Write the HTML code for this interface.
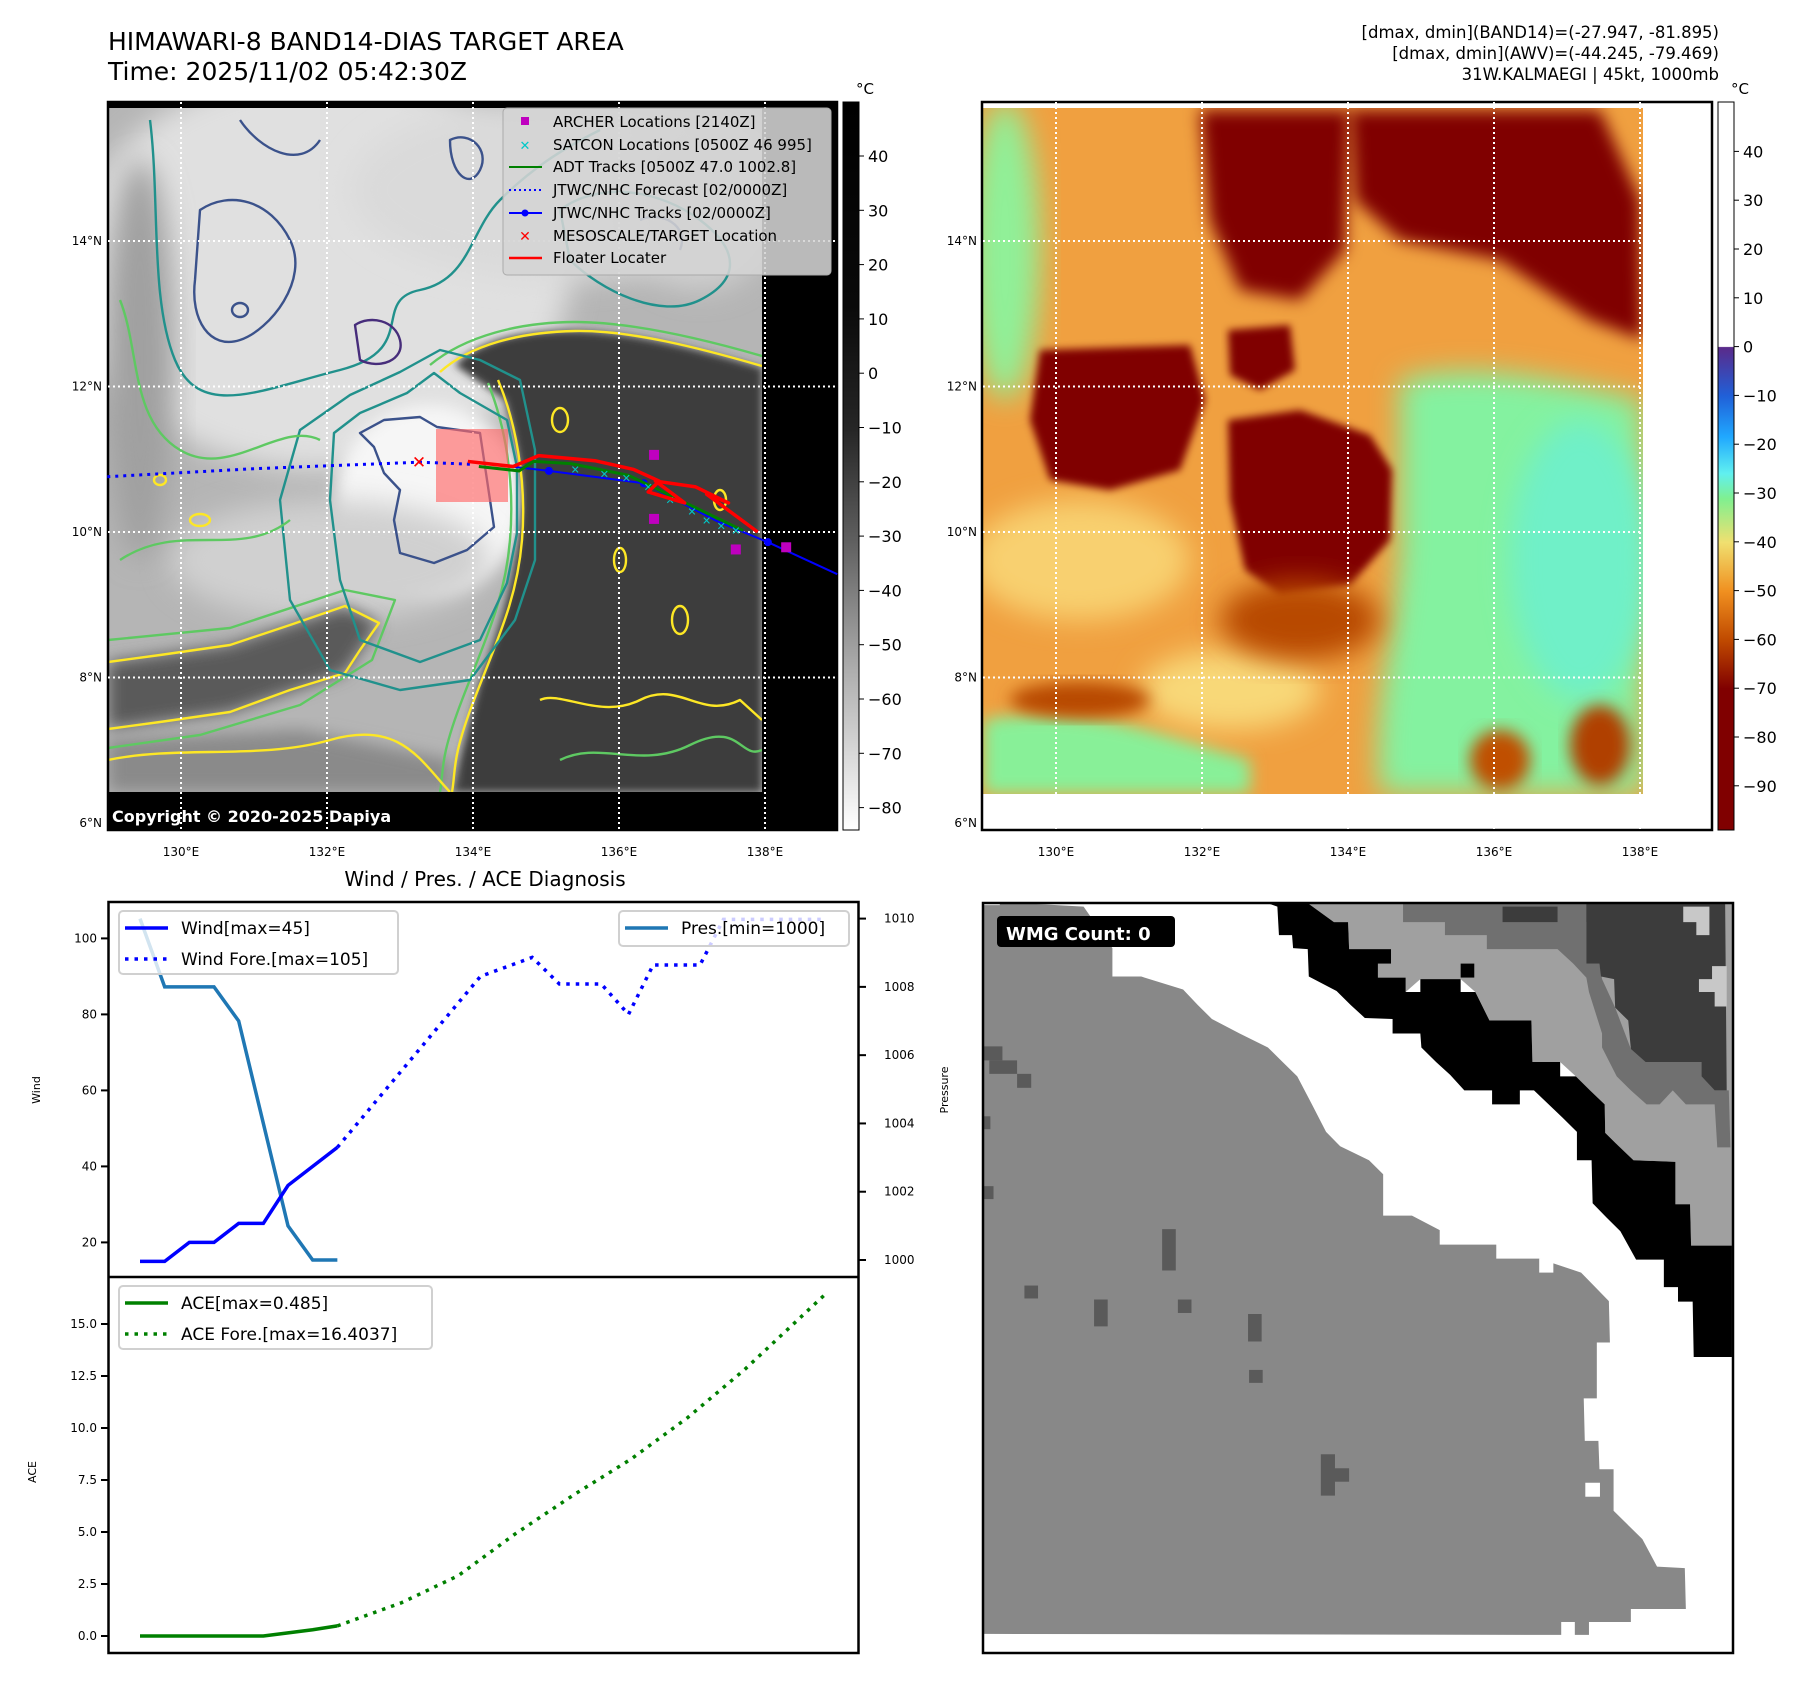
<!DOCTYPE html>
<html><head><meta charset="utf-8"><style>
html,body{margin:0;padding:0;background:#fff;}
svg{display:block;font-family:"DejaVu Sans","Liberation Sans",sans-serif;}
</style></head><body>
<svg id="fig" width="1801" height="1690" viewBox="0 0 1801 1690" xmlns="http://www.w3.org/2000/svg">
<defs>
  <clipPath id="clipL"><rect x="108" y="108" width="654" height="684"/></clipPath>
  <clipPath id="clipR"><rect x="983" y="108" width="660" height="686"/></clipPath>
  <clipPath id="clipW"><rect x="983" y="903" width="750" height="750"/></clipPath>
  <filter id="b8" x="-20%" y="-20%" width="140%" height="140%"><feGaussianBlur stdDeviation="8"/></filter>
  <filter id="b14" x="-30%" y="-30%" width="160%" height="160%"><feGaussianBlur stdDeviation="14"/></filter>
  <filter id="b4"><feGaussianBlur stdDeviation="4"/></filter>
  <linearGradient id="cbL" x1="0" y1="0" x2="0" y2="1">
    <stop offset="0" stop-color="#000"/><stop offset="0.28" stop-color="#0a0a0a"/>
    <stop offset="0.45" stop-color="#262626"/><stop offset="0.6" stop-color="#5e5e5e"/>
    <stop offset="0.78" stop-color="#adadad"/><stop offset="1" stop-color="#fff"/>
  </linearGradient>
  <linearGradient id="cbR" x1="0" y1="0" x2="0" y2="1">
    <stop offset="0" stop-color="#fff"/><stop offset="0.336" stop-color="#fff"/>
    <stop offset="0.337" stop-color="#5a2a8a"/><stop offset="0.404" stop-color="#2060d8"/>
    <stop offset="0.46" stop-color="#20a8ff"/><stop offset="0.51" stop-color="#60f0f0"/>
    <stop offset="0.545" stop-color="#80f090"/><stop offset="0.605" stop-color="#f0e070"/>
    <stop offset="0.672" stop-color="#f09020"/><stop offset="0.739" stop-color="#c04a00"/>
    <stop offset="0.806" stop-color="#800000"/><stop offset="1" stop-color="#800000"/>
  </linearGradient>
</defs>

<!-- Titles -->
<text x="108" y="50" font-size="25">HIMAWARI-8 BAND14-DIAS TARGET AREA</text>
<text x="108" y="80" font-size="25">Time: 2025/11/02 05:42:30Z</text>
<g font-size="16.5" text-anchor="end">
  <text x="1719" y="38">[dmax, dmin](BAND14)=(-27.947, -81.895)</text>
  <text x="1719" y="59">[dmax, dmin](AWV)=(-44.245, -79.469)</text>
  <text x="1719" y="80">31W.KALMAEGI | 45kt, 1000mb</text>
</g>

<!-- LEFT MAP -->
<g>
  <rect x="108" y="102" width="729" height="728" fill="#000"/>
  <g clip-path="url(#clipL)">
    <rect x="108" y="108" width="654" height="684" fill="#b5b5b5"/>
    <ellipse cx="320" cy="270" rx="250" ry="200" fill="#e0e0e0" filter="url(#b14)"/>
    <ellipse cx="560" cy="190" rx="210" ry="90" fill="#dadada" filter="url(#b14)"/>
    <ellipse cx="700" cy="200" rx="80" ry="90" fill="#cfcfcf" filter="url(#b14)"/>
    <ellipse cx="430" cy="500" rx="95" ry="95" fill="#f6f6f6" filter="url(#b8)"/>
    <ellipse cx="330" cy="560" rx="160" ry="60" fill="#d0d0d0" filter="url(#b14)"/>
    <ellipse cx="140" cy="360" rx="35" ry="200" fill="#a0a0a0" filter="url(#b14)"/>
    <path d="M455,365 C480,340 520,330 575,331 S700,350 762,368 L762,792 L452,792 C460,760 470,720 478,690 S505,620 515,560 S525,470 505,400 Z" fill="#3d3d3d" filter="url(#b4)"/>
    <path d="M108,662 L230,645 L345,606 L379,623 L345,673 L230,712 L108,729 Z" fill="#5a5a5a" filter="url(#b8)"/>
    <path d="M108,740 L300,730 L452,760 L452,792 L108,792 Z" fill="#8a8a8a" filter="url(#b8)"/>
    <g fill="none" stroke-width="2.4" stroke-linejoin="round">
      <path d="M440,372 C470,345 520,332 575,331 S700,348 762,366" stroke="#fde725"/>
      <path d="M498,380 C515,420 527,480 522,540 S497,640 474,700 S456,770 452,792" stroke="#fde725"/>
      <path d="M430,365 C465,336 520,322 575,322 S700,338 762,356" stroke="#5ec962"/>
      <path d="M488,383 C505,425 515,480 510,540 S485,640 462,700 S444,770 440,792" stroke="#5ec962"/>
      <path d="M108,662 L160,655 L230,645 L290,625 L345,606 L379,623 L360,650 L345,673 L290,690 L230,712 L160,722 L108,729" stroke="#fde725"/>
      <path d="M108,640 L230,628 L345,590 L395,600 L372,660 L300,705 L200,735 L108,748" stroke="#5ec962"/>
      <path d="M108,760 C180,745 260,760 330,740 S420,760 450,792" stroke="#fde725"/>
      <path d="M540,700 C560,690 600,720 640,700 S700,720 740,700 L762,720" stroke="#fde725"/>
      <path d="M560,760 C600,740 640,770 690,745 S740,760 762,750" stroke="#5ec962"/>
      <path d="M334,433 L360,413 L407,393 L434,373 L460,393 L507,420 L517,467 L517,533 L507,583 L480,640 L420,662 L360,640 L340,580 L330,500 Z" stroke="#21918c"/>
      <path d="M300,430 L350,395 L400,372 L440,350 L480,360 L520,380 L535,450 L535,560 L515,620 L470,680 L400,690 L330,670 L290,600 L280,500 Z" stroke="#21918c"/>
      <path d="M360,433 L384,420 L420,417 L437,427 L480,433 L490,500 L494,527 L467,550 L434,563 L400,553 L394,520 L400,490 L384,473 L374,447 Z" stroke="#3b528b"/>
      <path d="M150,120 C160,200 150,300 175,360 S260,390 340,370 S370,300 420,290 S470,230 500,200 S560,150 600,130" stroke="#21918c"/>
      <path d="M120,300 C140,350 130,420 180,450 S280,420 320,440" stroke="#5ec962"/>
      <path d="M120,560 C180,520 240,560 290,520" stroke="#5ec962"/>
      <path d="M200,210 C230,190 270,200 290,240 S270,330 240,340 S190,320 195,280 Z" stroke="#3b528b"/>
      <path d="M240,120 C260,150 300,170 320,140" stroke="#3b528b"/>
      <path d="M355,325 C370,315 395,320 400,340 S380,370 360,360 Z" stroke="#472d7b"/>
      <path d="M450,140 C470,130 490,150 480,170 S450,175 450,140 Z" stroke="#3b528b"/>
      <path d="M560,210 C600,180 660,190 700,220 S740,280 700,300 S600,290 570,260 Z" stroke="#21918c"/>
      <path d="M640,220 C660,210 690,225 680,250" stroke="#3b528b"/>
      <ellipse cx="240" cy="310" rx="8" ry="7" stroke="#3b528b"/>
      <ellipse cx="560" cy="420" rx="8" ry="12" stroke="#fde725"/>
      <ellipse cx="620" cy="560" rx="6" ry="12" stroke="#fde725"/>
      <ellipse cx="680" cy="620" rx="8" ry="14" stroke="#fde725"/>
      <ellipse cx="720" cy="500" rx="6" ry="10" stroke="#fde725"/>
      <ellipse cx="200" cy="520" rx="10" ry="6" stroke="#fde725"/>
      <ellipse cx="160" cy="480" rx="6" ry="5" stroke="#fde725"/>
    </g>
  </g>
  <rect x="108" y="102" width="729" height="728" fill="none" stroke="#000" stroke-width="2.5"/>
  <text x="112" y="822" font-size="16" font-weight="bold" fill="#fff">Copyright © 2020-2025 Dapiya</text>
</g>

<!-- RIGHT MAP -->
<g>
  <rect x="982" y="102" width="730" height="728" fill="#fff"/>
  <g clip-path="url(#clipR)">
    <rect x="983" y="108" width="660" height="686" fill="#f0a040"/>
    <path d="M1400,380 C1470,360 1560,380 1643,400 L1643,794 L1380,794 C1370,700 1400,620 1400,540 Z" fill="#84f2a0" filter="url(#b14)"/>
    <ellipse cx="1580" cy="560" rx="70" ry="140" fill="#70f0c8" filter="url(#b14)"/>
    <ellipse cx="1005" cy="250" rx="35" ry="150" fill="#90f098" filter="url(#b14)"/>
    <path d="M983,720 C1080,700 1180,740 1250,760 L1250,794 L983,794 Z" fill="#88f098" filter="url(#b8)"/>
    <ellipse cx="1080" cy="560" rx="110" ry="60" fill="#f8d070" filter="url(#b14)"/>
    <ellipse cx="1230" cy="690" rx="90" ry="40" fill="#f8d878" filter="url(#b14)"/>
    <path d="M1040,350 L1190,345 L1205,400 L1180,470 L1110,490 L1050,480 L1030,420 Z" fill="#800000" filter="url(#b4)"/>
    <path d="M1200,110 L1350,110 L1345,250 L1300,300 L1240,290 L1210,220 Z" fill="#800000" filter="url(#b8)"/>
    <path d="M1350,110 L1600,110 L1640,200 L1643,340 L1590,320 L1500,260 L1400,240 L1355,200 Z" fill="#800000" filter="url(#b8)"/>
    <path d="M1228,330 L1290,325 L1295,370 L1260,390 L1230,375 Z" fill="#800000" filter="url(#b4)"/>
    <path d="M1228,420 L1300,410 L1370,435 L1392,470 L1390,540 L1350,585 L1280,595 L1245,570 L1230,500 Z" fill="#800000" filter="url(#b4)"/>
    <ellipse cx="1300" cy="620" rx="80" ry="40" fill="#b84a00" filter="url(#b14)"/>
    <ellipse cx="1080" cy="700" rx="70" ry="18" fill="#b84a00" filter="url(#b8)"/>
    <ellipse cx="1600" cy="745" rx="30" ry="40" fill="#b04000" filter="url(#b8)"/>
    <ellipse cx="1500" cy="760" rx="30" ry="30" fill="#c05000" filter="url(#b8)"/>
  </g>
  <rect x="982" y="102" width="730" height="728" fill="none" stroke="#000" stroke-width="2.5"/>
</g>

<g id="gridL"></g>
<g id="tracks"></g>

<!-- legend in left map -->
<g font-size="15">
  <rect x="503" y="108" width="328" height="167" rx="4" fill="rgba(212,212,212,0.88)" stroke="#aaa"/>
  <rect x="521" y="117" width="8" height="8" fill="#bf00bf"/>
  <text x="553" y="127">ARCHER Locations [2140Z]</text>
  <text x="525" y="150" text-anchor="middle" fill="#00c8c8" font-weight="bold" font-size="13">✕</text>
  <text x="553" y="150">SATCON Locations [0500Z 46 995]</text>
  <line x1="509" y1="167" x2="542" y2="167" stroke="#008000" stroke-width="2"/>
  <text x="553" y="172">ADT Tracks [0500Z 47.0 1002.8]</text>
  <line x1="509" y1="190" x2="542" y2="190" stroke="#0000ff" stroke-width="2" stroke-dasharray="2 3"/>
  <text x="553" y="195">JTWC/NHC Forecast [02/0000Z]</text>
  <line x1="509" y1="213" x2="542" y2="213" stroke="#0000ff" stroke-width="2"/><circle cx="525" cy="213" r="3.5" fill="#0000ff"/>
  <text x="553" y="218">JTWC/NHC Tracks [02/0000Z]</text>
  <text x="525" y="241" text-anchor="middle" fill="#ff0000" font-weight="bold" font-size="14">✕</text>
  <text x="553" y="241">MESOSCALE/TARGET Location</text>
  <line x1="509" y1="258" x2="542" y2="258" stroke="#ff0000" stroke-width="2.5"/>
  <text x="553" y="263">Floater Locater</text>
</g>

<!-- colorbars -->
<g>
  <rect x="843" y="102" width="16" height="728" fill="url(#cbL)" stroke="#000" stroke-width="1"/>
  <text x="856" y="94" font-size="15">°C</text>
  <g id="cbLticks" font-size="16"></g>
</g>
<g>
  <rect x="1718" y="102" width="16" height="728" fill="url(#cbR)" stroke="#000" stroke-width="1"/>
  <text x="1731" y="94" font-size="15">°C</text>
  <g id="cbRticks" font-size="16"></g>
</g>

<!-- DIAGNOSIS -->
<text x="485" y="886" font-size="20" text-anchor="middle">Wind / Pres. / ACE Diagnosis</text>
<g id="diag"></g>

<!-- WMG -->
<g id="wmg"></g>

<script>
// ===== Diagnosis data =====
const obsIdx = [0,1,2,3,4,5,6,7,8];
const windObs = [15,15,20,20,25,25,35,40,45];
const windFcIdx = [8,13.8,15.9,17,18.7,19.8,20.8,22.7,23.65,27.75];
const windFc = [45,90,95,88,88,80,93,93,105,105];
const presObs = [1010,1008,1008,1008,1007,1004,1001,1000,1000];
const aceObs = [0,0,0,0,0,0,0.15,0.3,0.485];
const aceFcIdx = [8,10.6,12.9,15.2,17.6,19.9,22.2,24.5,27.75];
const aceFc = [0.485,1.6,2.9,4.9,6.8,8.5,10.5,12.8,16.4];
const windTicks = [20,40,60,80,100];
const presTicks = [1000,1002,1004,1006,1008,1010];
const aceTicks = [0,2.5,5,7.5,10,12.5,15];
// ===== Map overlays data (lon, lat) =====
const archerLon = [136.48,136.48,137.60,138.29];
const archerLat = [11.06,10.18,9.76,9.79];
const fcLon = [128.99,131.0,133.27,134.0];
const fcLat = [10.76,10.87,10.96,10.93];
const jtwcLon = [133.93,135.04,136.34,137.34,138.04,138.99];
const jtwcLat = [10.97,10.84,10.67,10.15,9.86,9.42];
const jtwcDots = [1,2,4];
const adtLon = [134.08,134.63,134.83,135.34,136.13,136.91,137.70];
const adtLat = [10.90,10.84,10.97,10.94,10.78,10.40,10.02];
const satconLon = [135.4,135.8,136.1,136.4,136.7,137.0,137.2,137.4,137.6];
const satconLat = [10.86,10.80,10.74,10.62,10.44,10.28,10.16,10.08,10.02];
const floatLon = [133.93,134.55,134.9,135.67,136.2,136.55,136.4,136.9,136.5,137.05,137.5,137.2,137.9];
const floatLat = [10.97,10.9,11.05,10.98,10.86,10.7,10.55,10.4,10.7,10.62,10.4,10.52,10.0];
const mesoLon = [133.26], mesoLat = [10.96];
const lonTicks = [130,132,134,136,138];
const latTicks = [6,8,10,12,14];
const cbLTicks = [40,30,20,10,0,-10,-20,-30,-40,-50,-60,-70,-80];
const cbRTicks = [40,30,20,10,0,-10,-20,-30,-40,-50,-60,-70,-80,-90];

const NS='http://www.w3.org/2000/svg';
function mk(tag, attrs, parent){const e=document.createElementNS(NS,tag);for(const k in attrs)e.setAttribute(k,attrs[k]);parent.appendChild(e);return e;}
const mX = lon => 181 + (lon-130)*73;
const mY = lat => 532 - (lat-10)*72.75;
const xI = i => 140 + i*24.67;
const yW = v => 1242.4 - (v-20)*3.80;
const yP = p => 1260 - (p-1000)*34.14;
const yA = a => 1636 - a*20.8;
const fmtNeg = v => (v<0?'\u2212'+Math.abs(v):String(v));

const grid=document.getElementById('gridL');
[0,875].forEach((off,mi)=>{
  lonTicks.forEach(lon=>{
    const l=mk('line',{x1:mX(lon)+off,y1:102,x2:mX(lon)+off,y2:830,stroke:'#fff','stroke-width':2,'stroke-dasharray':'2 3'},grid);
    
    
    const t=mk('text',{x:mX(lon)+off,y:856,'font-size':12,'text-anchor':'middle'},grid);
    t.textContent=lon+'°E';
    
    
  });
  latTicks.forEach(lat=>{
    if(lat>6){
      const l=mk('line',{x1:108+off,y1:mY(lat),x2:837+off,y2:mY(lat),stroke:'#fff','stroke-width':2,'stroke-dasharray':'2 3'},grid);
      
      
    }
    const t=mk('text',{x:102+off,y:Math.min(mY(lat),826)+4,'font-size':12,'text-anchor':'end'},grid);
    t.textContent=lat+'°N';
    
    
  });
});

const tr=document.getElementById('tracks');
const pts=(lo,la)=>lo.map((v,i)=>mX(v)+','+mY(la[i])).join(' ');
let e;
e=mk('rect',{x:436,y:429,width:72,height:73,fill:'rgba(255,105,105,0.65)'},tr);


e=mk('polyline',{points:pts(fcLon,fcLat),fill:'none',stroke:'#0000ff','stroke-width':3,'stroke-dasharray':'3 5'},tr);


e=mk('polyline',{points:pts(jtwcLon,jtwcLat),fill:'none',stroke:'#0000ff','stroke-width':2},tr);


jtwcDots.forEach(i=>{
  const c=mk('circle',{cx:mX(jtwcLon[i]),cy:mY(jtwcLat[i]),r:4,fill:'#0000ff'},tr);
  
  
});
e=mk('polyline',{points:pts(adtLon,adtLat),fill:'none',stroke:'#008000','stroke-width':3},tr);


satconLon.forEach((lo,i)=>{
  const t=mk('text',{x:mX(lo),y:mY(satconLat[i])+4,'font-size':11,'text-anchor':'middle',fill:'#00c8c8','font-weight':'bold'},tr);
  t.textContent='✕';
  
  
});
e=mk('polyline',{points:pts(floatLon,floatLat),fill:'none',stroke:'#ff0000','stroke-width':3.5,'stroke-linejoin':'round'},tr);


archerLon.forEach((lo,i)=>{
  const r=mk('rect',{x:mX(lo)-5,y:mY(archerLat[i])-5,width:10,height:10,fill:'#bf00bf'},tr);
  
  
});
mesoLon.forEach((lo,i)=>{
  const t=mk('text',{x:mX(lo),y:mY(mesoLat[i])+6,'font-size':17,'text-anchor':'middle',fill:'#ff0000','font-weight':'bold'},tr);
  t.textContent='✕';
  
  
});

const cbl=document.getElementById('cbLticks');
cbLTicks.forEach(v=>{
  const y=156+(40-v)*5.43;
  mk('line',{x1:859,y1:y,x2:864,y2:y,stroke:'#000'},cbl);
  const t=mk('text',{x:868,y:y+6},cbl);t.textContent=fmtNeg(v);
  
  
});
const cbr=document.getElementById('cbRticks');
cbRTicks.forEach(v=>{
  const y=151.4+(40-v)*4.88;
  mk('line',{x1:1734,y1:y,x2:1739,y2:y,stroke:'#000'},cbr);
  const t=mk('text',{x:1743,y:y+6},cbr);t.textContent=fmtNeg(v);
  
  
});

const d=document.getElementById('diag');
const line=(xs,ys,attrs,name)=>{
  const p=mk('polyline',Object.assign({points:xs.map((x,i)=>x+','+ys[i]).join(' '),fill:'none'},attrs),d);
  
  
};
windTicks.forEach(v=>{
  mk('line',{x1:101,y1:yW(v),x2:108,y2:yW(v),stroke:'#000','stroke-width':2},d);
  const t=mk('text',{x:97,y:yW(v)+4,'font-size':12,'text-anchor':'end'},d);t.textContent=v;
  
  
});
presTicks.forEach(v=>{
  mk('line',{x1:859,y1:yP(v),x2:866,y2:yP(v),stroke:'#000','stroke-width':2},d);
  const t=mk('text',{x:884,y:yP(v)+4,'font-size':12},d);t.textContent=v;
  
  
});
aceTicks.forEach(v=>{
  mk('line',{x1:101,y1:yA(v),x2:108,y2:yA(v),stroke:'#000','stroke-width':2},d);
  const t=mk('text',{x:97,y:yA(v)+4,'font-size':12,'text-anchor':'end'},d);t.textContent=v.toFixed(1);
  
  
});
let yl=mk('text',{x:0,y:0,'font-size':11,'text-anchor':'middle',transform:'translate(40,1090) rotate(-90)'},d);yl.textContent='Wind';


yl=mk('text',{x:0,y:0,'font-size':11,'text-anchor':'middle',transform:'translate(948,1090) rotate(-90)'},d);yl.textContent='Pressure';


yl=mk('text',{x:0,y:0,'font-size':11,'text-anchor':'middle',transform:'translate(36,1472) rotate(-90)'},d);yl.textContent='ACE';



line(obsIdx.map(xI),presObs.map(yP),{stroke:'#1f77b4','stroke-width':3.5},'pressure-line');
line(obsIdx.map(xI),windObs.map(yW),{stroke:'#0000ff','stroke-width':3.5},'wind-line');
line(windFcIdx.map(xI),windFc.map(yW),{stroke:'#0000ff','stroke-width':3.5,'stroke-dasharray':'3.5 6'},'wind-forecast-line');
line(obsIdx.map(xI),aceObs.map(yA),{stroke:'#008000','stroke-width':3.5},'ace-line');
line(aceFcIdx.map(xI),aceFc.map(yA),{stroke:'#008000','stroke-width':3.5,'stroke-dasharray':'3.5 6'},'ace-forecast-line');

function legend(x,y,w,h,items,name){
  const g=mk('g',{},d);
  
  
  mk('rect',{x:x,y:y,width:w,height:h,rx:4,fill:'rgba(255,255,255,0.8)',stroke:'#d0d0d0','stroke-width':2},g);
  items.forEach((it,i)=>{
    const cy=y+17+i*31;
    mk('line',Object.assign({x1:x+6,y1:cy,x2:x+49,y2:cy,'stroke-width':3.5},it.st),g);
    const t=mk('text',{x:x+62,y:cy+6,'font-size':17},g);t.textContent=it.label;
  });
}
legend(119,911,279,63,[{label:'Wind[max=45]',st:{stroke:'#0000ff'}},{label:'Wind Fore.[max=105]',st:{stroke:'#0000ff','stroke-dasharray':'3.5 6'}}],'wind-legend');
legend(619,911,230,35,[{label:'Pres.[min=1000]',st:{stroke:'#1f77b4'}}],'pressure-legend');
legend(119,1286,313,63,[{label:'ACE[max=0.485]',st:{stroke:'#008000'}},{label:'ACE Fore.[max=16.4037]',st:{stroke:'#008000','stroke-dasharray':'3.5 6'}}],'ace-legend');
mk('rect',{x:108.5,y:902,width:750,height:751,fill:'none',stroke:'#000','stroke-width':2.5},d);
mk('line',{x1:108.5,y1:1277,x2:858.5,y2:1277,stroke:'#000','stroke-width':2.5},d);

const w=document.getElementById('wmg');
const wx=X=>982+(X-6)*0.5237, wy=Y=>902+(Y-46)*0.5176;
const poly=(arr,fill)=>mk('polygon',{points:arr.map(p=>wx(p[0])+','+wy(p[1])).join(' '),fill:fill},w);
mk('rect',{x:983,y:903,width:750,height:750,fill:'#fff'},w);
poly([[6,52],[40,52],[40,46],[200,55],[255,135],[255,190],[310,190],[390,215],[418,245],[445,272],[498,300],[552,327],[580,355],[608,383],[636,437],[663,490],[690,518],[745,545],[772,572],[772,652],[827,652],[880,680],[880,708],[988,708],[988,735],[1070,735],[1150,762],[1177,790],[1203,817],[1205,897],[1180,897],[1180,1005],[1155,1005],[1157,1087],[1183,1087],[1185,1142],[1212,1142],[1212,1222],[1240,1250],[1267,1277],[1295,1330],[1348,1333],[1350,1412],[1245,1412],[1245,1437],[1165,1437],[1165,1462],[1112,1462],[6,1460]],'#888888');
poly([[625,46],[1438,46],[1438,710],[1360,710],[1358,630],[1330,630],[1330,548],[1250,545],[1222,518],[1196,492],[1195,437],[1167,410],[1140,383],[1110,355],[1057,355],[1055,275],[975,275],[948,220],[920,195],[843,195],[815,220],[815,192],[762,192],[762,165],[787,165],[787,137],[707,137],[705,85],[678,85]],'#a0a0a0');
poly([[810,46],[1185,46],[1160,85],[1160,165],[1185,165],[1190,195],[1215,250],[1245,330],[1273,355],[1380,355],[1380,383],[1405,410],[1432,410],[1435,520],[1410,520],[1405,437],[1350,437],[1325,410],[1300,437],[1275,437],[1245,410],[1218,383],[1190,327],[1190,300],[1165,220],[1160,192],[1135,165],[1105,137],[970,137],[970,110],[890,110],[890,85],[810,85]],'#707070');
poly([[1160,46],[1425,46],[1428,410],[1405,410],[1380,383],[1380,355],[1273,355],[1245,330],[1240,275],[1215,250],[1213,195],[1188,190],[1185,165],[1160,165]],'#3c3c3c');
poly([[1000,55],[1105,55],[1105,85],[1000,85]],'#3c3c3c');
poly([[1345,55],[1395,55],[1395,110],[1370,110],[1370,85],[1345,85]],'#c8c8c8');
poly([[1400,170],[1428,170],[1428,248],[1405,248],[1405,220],[1375,220],[1375,195],[1400,195]],'#c8c8c8');
poly([[545,46],[625,46],[678,85],[705,85],[707,137],[787,137],[787,165],[762,165],[762,192],[815,192],[815,220],[843,220],[843,195],[920,195],[920,220],[948,220],[975,275],[1055,275],[1057,355],[1110,355],[1110,383],[1140,383],[1167,410],[1195,437],[1196,492],[1222,518],[1250,545],[1330,548],[1330,630],[1358,630],[1360,710],[1438,710],[1438,925],[1365,925],[1363,818],[1335,818],[1335,790],[1308,790],[1308,737],[1255,737],[1225,682],[1198,655],[1172,628],[1170,545],[1142,545],[1142,490],[1115,463],[1088,437],[1060,410],[1033,410],[1033,437],[980,437],[980,410],[927,410],[900,380],[873,355],[845,327],[843,300],[790,300],[790,272],[737,270],[710,245],[683,218],[630,190],[628,137],[600,135],[598,110],[573,110],[570,55]],'#000000');
poly([[920,165],[946,165],[946,192],[920,192]],'#000000');
[[6,325,45,352],[20,352,73,378],[73,378,100,405],[6,460,22,485],[6,595,28,620],[350,678,376,758],[87,787,113,812],[220,814,246,866],[380,814,406,840],[514,842,540,895],[516,950,542,975],[653,1113,680,1193],[680,1140,707,1166]].forEach(r=>poly([[r[0],r[1]],[r[2],r[1]],[r[2],r[3]],[r[0],r[3]]],'#5a5a5a'));
[[1158,1168,1186,1195],[1112,1437,1138,1463],[1070,735,1097,762]].forEach(r=>poly([[r[0],r[1]],[r[2],r[1]],[r[2],r[3]],[r[0],r[3]]],'#ffffff'));
const wb=mk('rect',{x:997,y:916,width:178,height:31,rx:4,fill:'#000'},w);


const wt=mk('text',{x:1006,y:940,'font-size':18,'font-weight':'bold',fill:'#fff'},w);
wt.textContent='WMG Count: 0';


mk('rect',{x:983,y:903,width:750,height:750,fill:'none',stroke:'#000','stroke-width':2.5},w);
</script>
</svg>
</body></html>
